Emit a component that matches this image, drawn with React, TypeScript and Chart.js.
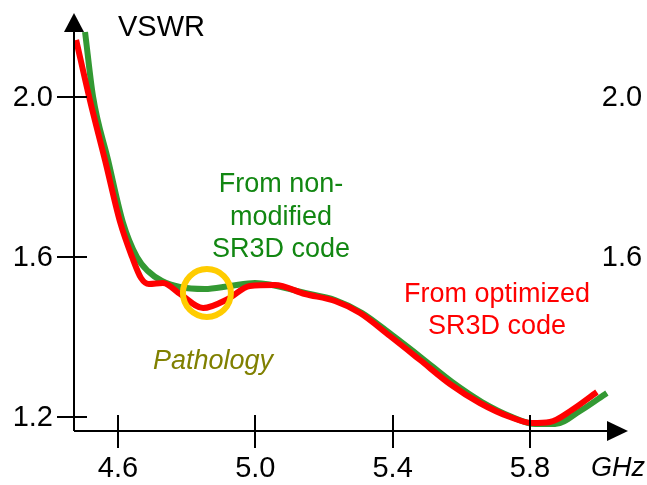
import React, { useEffect, useRef } from "react";
import { Chart, registerables } from "chart.js";

Chart.register(...registerables);

// GHz / VSWR values
const greenX = [4.504, 4.527, 4.571, 4.614, 4.655, 4.687, 4.728, 4.78, 4.853, 4.926, 4.999, 5.145, 5.232, 5.311, 5.398, 5.485, 5.573, 5.66, 5.748, 5.815, 5.873, 5.946, 6.024];
const greenY = [2.1625, 2.0025, 1.8425, 1.6875, 1.6, 1.565, 1.54, 1.525, 1.52, 1.5275, 1.535, 1.51, 1.4925, 1.46, 1.405, 1.3475, 1.2875, 1.2375, 1.2, 1.1825, 1.1825, 1.215, 1.26];

const redX = [4.478, 4.518, 4.562, 4.606, 4.641, 4.667, 4.69, 4.731, 4.781, 4.848, 4.92, 4.984, 5.057, 5.145, 5.232, 5.305, 5.392, 5.48, 5.567, 5.654, 5.742, 5.806, 5.858, 5.922, 5.995];
const redY = [2.1425, 1.9925, 1.8425, 1.6875, 1.6, 1.5475, 1.5325, 1.535, 1.5075, 1.4725, 1.495, 1.5275, 1.53, 1.5075, 1.49, 1.46, 1.4025, 1.3425, 1.2825, 1.235, 1.2, 1.185, 1.1875, 1.2175, 1.2625];

const xTicks = [4.6, 5.0, 5.4, 5.8];
const yTicksLeft = [1.2, 1.6, 2.0];
const yTicksRight = [1.6, 2.0];

const X_MIN = 4.4718;
const X_MAX = 6.0856;
const Y_MIN = 1.165;
const Y_MAX = 2.21;

const FONT = "'Liberation Sans', Arial, sans-serif";

const axesPlugin = {
  id: "customAxes",
  afterDatasetsDraw(chart: any) {
    const ctx = chart.ctx;
    const xs = chart.scales.x;
    const ys = chart.scales.y;
    const area = chart.chartArea;
    const left = area.left;
    const bottom = area.bottom;
    const right = area.right;
    const top = area.top;

    ctx.save();
    // pathology circle
    const cx = xs.getPixelForValue(4.859);
    const cy = ys.getPixelForValue(1.51);
    ctx.beginPath();
    ctx.strokeStyle = "#ffcc00";
    ctx.lineWidth = 6;
    ctx.arc(cx, cy, 24, 0, Math.PI * 2);
    ctx.stroke();

    // axes
    ctx.strokeStyle = "#000";
    ctx.fillStyle = "#000";
    ctx.lineWidth = 2;
    ctx.beginPath();
    ctx.moveTo(left, bottom);
    ctx.lineTo(left, top + 19);
    ctx.moveTo(left, bottom);
    ctx.lineTo(right - 21, bottom);
    ctx.stroke();
    // arrows
    ctx.beginPath();
    ctx.moveTo(left, top);
    ctx.lineTo(left - 10, top + 19);
    ctx.lineTo(left + 10, top + 19);
    ctx.closePath();
    ctx.fill();
    ctx.beginPath();
    ctx.moveTo(right, bottom);
    ctx.lineTo(right - 21, bottom - 10);
    ctx.lineTo(right - 21, bottom + 10);
    ctx.closePath();
    ctx.fill();

    // ticks
    ctx.beginPath();
    for (const v of yTicksLeft) {
      const y = Math.round(ys.getPixelForValue(v));
      ctx.moveTo(left - 17, y);
      ctx.lineTo(left + 13, y);
    }
    for (const v of xTicks) {
      const x = Math.round(xs.getPixelForValue(v));
      ctx.moveTo(x, bottom - 16);
      ctx.lineTo(x, bottom + 17);
    }
    ctx.stroke();

    // tick labels
    ctx.font = `29px ${FONT}`;
    ctx.textBaseline = "alphabetic";
    ctx.textAlign = "right";
    for (const v of yTicksLeft) {
      const y = ys.getPixelForValue(v);
      ctx.fillText(v.toFixed(1), left - 21, y + 9);
    }
    ctx.textAlign = "center";
    for (const v of yTicksRight) {
      const y = ys.getPixelForValue(v);
      ctx.fillText(v.toFixed(1), 622, y + 9);
    }
    for (const v of xTicks) {
      const x = xs.getPixelForValue(v);
      ctx.fillText(v.toFixed(1), x, 477);
    }
    ctx.textAlign = "left";
    ctx.font = `italic 27px ${FONT}`;
    ctx.fillText("GHz", 591, 476);

    ctx.font = `29px ${FONT}`;
    ctx.fillText("VSWR", 118, 36);

    // annotations
    ctx.textAlign = "center";
    ctx.font = `27px ${FONT}`;
    ctx.fillStyle = "#128712";
    ctx.fillText("From non-", 281, 192);
    ctx.fillText("modified", 281, 225);
    ctx.fillText("SR3D code", 281, 257);

    ctx.fillStyle = "#ff0000";
    ctx.fillText("From optimized", 497, 302);
    ctx.fillText("SR3D code", 497, 334);

    ctx.fillStyle = "#808000";
    ctx.font = `italic 27px ${FONT}`;
    ctx.fillText("Pathology", 213, 369);
    ctx.restore();
  },
};

export default function App() {
  const ref = useRef<HTMLCanvasElement | null>(null);
  useEffect(() => {
    if (!ref.current) return;
    const chart = new Chart(ref.current, {
      type: "line",
      data: {
        datasets: [
          {
            label: "From optimized SR3D code",
            data: redX.map((x, i) => ({ x, y: redY[i] })),
            borderColor: "#ff0000",
            borderWidth: 6,
            pointRadius: 0,
            cubicInterpolationMode: "monotone",
            order: 0,
          },
          {
            label: "From non-modified SR3D code",
            data: greenX.map((x, i) => ({ x, y: greenY[i] })),
            borderColor: "#339933",
            borderWidth: 6,
            pointRadius: 0,
            cubicInterpolationMode: "monotone",
            order: 1,
          },
        ],
      },
      options: {
        animation: false,
        responsive: false,
        layout: { padding: { left: 74, right: 19, top: 13, bottom: 54 } },
        plugins: { legend: { display: false }, tooltip: { enabled: false } },
        scales: {
          x: { type: "linear", min: X_MIN, max: X_MAX, display: false },
          y: { type: "linear", min: Y_MIN, max: Y_MAX, display: false },
        },
      },
      plugins: [axesPlugin],
    });
    return () => chart.destroy();
  }, []);
  return (
    <div style={{ position: "fixed", left: 0, top: 0, width: 647, height: 485, background: "#fff" }}>
      <canvas ref={ref} width={647} height={485} style={{ display: "block" }} />
    </div>
  );
}
